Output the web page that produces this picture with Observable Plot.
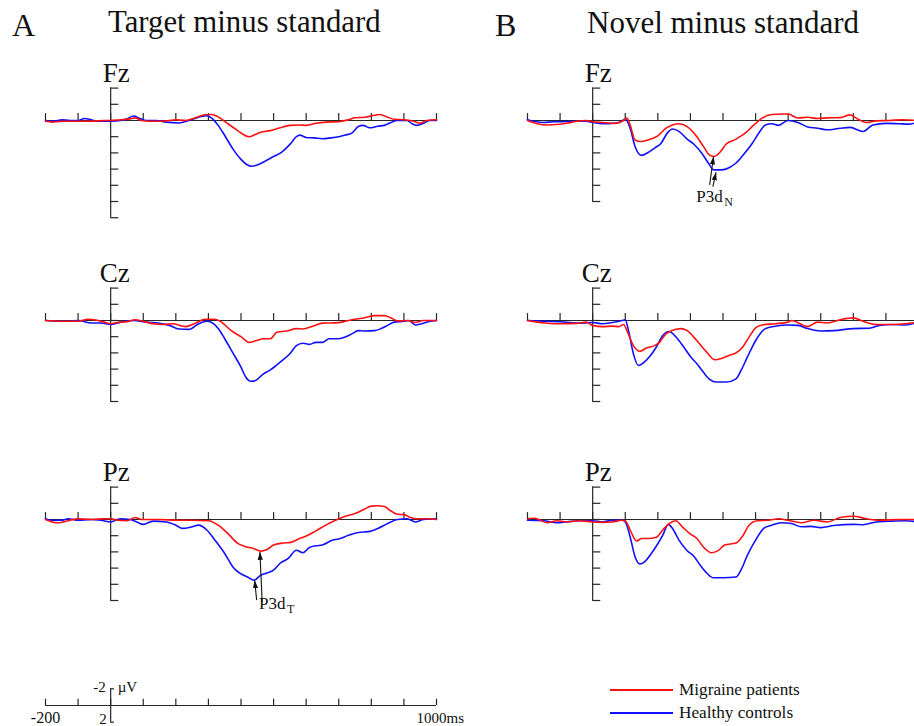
<!DOCTYPE html>
<html><head><meta charset="utf-8">
<script src="https://cdn.jsdelivr.net/npm/d3@7"></script>
<script src="https://cdn.jsdelivr.net/npm/@observablehq/plot@0.6"></script>
<style>
html,body{margin:0;padding:0;background:#fff;}
#root{position:relative;width:914px;height:726px;overflow:hidden;background:#fff;font-family:'Liberation Serif','Times New Roman',serif;color:#111;}
.abs{position:absolute;white-space:nowrap;font-family:'Liberation Serif','Times New Roman',serif;}
.abs svg{max-width:none !important;display:block;}
</style></head><body><div id="root"></div>
<script>
// ---------- data (time in ms, amplitude in µV; positive plotted downward) ----------
const xTicks = [-200,-100,0,100,200,300,400,500,600,700,800,900,1000];
const seriesNames = ["Migraine patients", "Healthy controls"];
const electrodes = ["Fz", "Cz", "Pz"];
const conditions = ["Target minus standard", "Novel minus standard"];
const panelLetters = ["A", "B"];
const yAxisMax = [12, 10, 10, 10, 10, 10]; // FzA, CzA, PzA, FzB, CzB, PzB

const fzA_healthy = [[-200,0],[-175,0.1],[-150,-0.1],[-125,0],[-100,0],[-80,-0.25],[-60,-0.1],[-40,0.1],[-20,0.1],[0,0.1],[30,0],[50,-0.2],[70,-0.55],[90,-0.25],[110,0],[140,0],[170,0.2],[210,0.3],[240,0],[270,-0.4],[295,-0.6],[310,-0.3],[330,0.6],[350,1.85],[375,3.5],[400,4.8],[420,5.5],[432,5.65],[450,5.5],[475,5.0],[500,4.45],[525,3.9],[550,2.95],[570,2.0],[580,1.8],[600,2.1],[625,2.15],[650,2.25],[675,2.15],[700,2.0],[720,1.8],[740,1.55],[760,0.75],[775,0.6],[795,0.9],[820,0.7],[840,0.6],[860,0.25],[880,0],[910,0],[925,0.4],[940,0.6],[960,0.35],[980,0],[1000,0]];
const fzA_migraine = [[-200,0.1],[-180,0.2],[-150,0.1],[-100,0.1],[-60,0.1],[-20,0],[0,0],[30,-0.1],[60,-0.2],[75,-0.33],[95,0],[120,0.1],[160,0.1],[200,-0.1],[230,0],[260,-0.33],[290,-0.7],[310,-0.75],[335,-0.33],[360,0.4],[390,1.25],[410,1.8],[425,2.0],[440,1.8],[460,1.45],[490,1.25],[520,0.9],[550,0.6],[580,0.55],[600,0.6],[630,0.35],[660,0.2],[700,0.15],[730,-0.1],[750,-0.33],[780,-0.4],[810,-0.65],[825,-0.75],[845,-0.5],[870,-0.15],[900,-0.1],[930,0.1],[950,0.33],[970,0],[1000,-0.1]];
const czA_healthy = [[-200,0],[-170,0.1],[-130,0.1],[-100,0],[-60,0.3],[-30,0.3],[0,0.5],[30,0.2],[70,0],[110,0.2],[150,0.33],[180,0.6],[210,1.05],[240,1.1],[270,0.4],[295,0.1],[310,0.25],[330,1.0],[350,2.25],[375,4.0],[400,5.75],[415,7.0],[430,7.5],[445,7.4],[465,6.7],[490,6.1],[520,5.15],[550,4.1],[570,3.1],[590,2.8],[610,2.95],[630,2.7],[650,2.7],[670,2.25],[700,2.25],[720,2.05],[740,1.65],[760,1.25],[780,1.3],[810,1.25],[830,1.0],[850,0.6],[870,0.2],[900,0.1],[915,0],[935,0.55],[955,0.4],[980,0.1],[1000,0]];
const czA_migraine = [[-200,0],[-150,0.1],[-100,0.1],[-70,-0.15],[-50,-0.1],[-20,0.2],[0,0.4],[20,0.25],[50,0.15],[75,-0.1],[100,0.1],[130,0.4],[160,0.5],[190,0.4],[230,0.75],[260,0.33],[290,-0.15],[320,-0.15],[340,0.2],[370,1.25],[400,2.0],[425,2.7],[445,2.5],[470,2.25],[490,2.25],[510,1.45],[540,1.3],[570,1.0],[590,1.05],[620,0.7],[650,0.33],[680,0.3],[710,0.2],[740,-0.1],[780,-0.33],[810,-0.6],[840,-0.6],[860,-0.33],[880,0.05],[910,0],[935,0.25],[960,0],[1000,0]];
const pzA_healthy = [[-200,-0.1],[-180,0.1],[-150,0.1],[-130,-0.1],[-100,0.1],[-60,0],[-30,0.1],[0,0.3],[30,-0.1],[60,0],[80,0.3],[100,0.6],[130,0.2],[170,0.3],[200,0.7],[220,1.1],[250,0.9],[270,0.7],[295,1.3],[320,2.55],[350,4.2],[375,5.85],[395,6.6],[420,7.1],[440,7.5],[460,6.9],[480,6.6],[500,6.25],[520,5.4],[545,4.8],[570,3.8],[590,4.1],[610,3.45],[630,3.25],[650,3.15],[680,2.55],[700,2.4],[730,1.95],[760,1.6],[790,1.5],[820,1.1],[850,0.5],[880,0],[910,-0.1],[935,0.3],[960,0],[1000,-0.1]];
const pzA_migraine = [[-200,0],[-180,0.3],[-160,0.4],[-130,0.15],[-100,-0.1],[-60,0],[-20,-0.1],[0,-0.1],[20,0.1],[50,0.15],[75,-0.25],[95,0],[150,0],[200,0.1],[250,0.1],[300,0.15],[330,0.7],[360,1.75],[390,2.95],[410,3.3],[440,3.6],[460,3.9],[480,3.7],[500,3.15],[530,2.9],[550,2.85],[580,2.35],[600,2.05],[630,1.4],[660,0.7],[690,0.1],[720,-0.4],[750,-0.75],[780,-1.3],[800,-1.65],[820,-1.7],[840,-1.6],[860,-1.05],[880,-0.65],[900,-0.6],[920,-0.25],[940,-0.1],[970,-0.1],[1000,0]];
const fzB_healthy = [[-200,-0.1],[-180,0.1],[-150,0.25],[-120,0.15],[-100,0.15],[-60,0.1],[-20,0.1],[0,0.25],[30,0.4],[60,0.35],[80,0.25],[100,-0.15],[115,0.95],[130,3.2],[150,4.3],[170,3.95],[190,3.4],[210,2.8],[230,1.5],[245,1.05],[265,1.35],[290,2.3],[310,2.9],[335,4.05],[355,5.25],[372,6.1],[395,6.1],[420,5.8],[440,5.25],[465,4.1],[490,2.8],[510,1.55],[530,0.55],[550,0.4],[570,0.6],[600,0],[630,0.25],[660,0.8],[690,0.95],[720,1.15],[760,0.95],[790,0.85],[830,1.35],[860,0.55],[900,0.35],[940,0.4],[970,0.45],[1000,0.15]];
const fzB_migraine = [[-200,0],[-170,0.4],[-140,0.55],[-110,0.5],[-80,0.35],[-50,0.1],[-20,0],[0,0.15],[30,0.25],[70,0.35],[95,0],[105,-0.3],[115,0.55],[130,2.4],[148,2.6],[170,2.4],[200,1.9],[225,0.95],[245,0.55],[265,0.4],[290,0.75],[315,1.75],[340,3.2],[358,4.25],[372,4.45],[390,3.95],[410,2.9],[440,2.3],[470,1.5],[495,0.55],[520,-0.3],[550,-0.75],[580,-0.8],[600,-0.8],[630,-0.3],[660,-0.4],[690,-0.25],[720,-0.33],[760,-0.35],[790,-0.7],[815,-0.15],[840,0.25],[870,0.05],[910,0],[950,-0.1],[1000,0]];
const czB_healthy = [[-200,0],[-150,0.1],[-100,0.15],[-50,0.33],[0,0.25],[30,0.4],[60,0.25],[90,0],[100,-0.1],[110,1.25],[125,4.1],[140,5.55],[155,5.25],[175,4.45],[195,3.3],[215,1.85],[235,1.35],[255,2.0],[280,3.3],[300,4.45],[320,5.35],[340,6.4],[360,7.3],[380,7.6],[410,7.6],[440,7.2],[455,6.2],[475,4.5],[500,2.5],[530,1.0],[560,0.7],[600,0.55],[630,0.6],[660,1.0],[700,1.3],[740,1.25],[800,1.0],[850,0.95],[880,0.6],[920,0.5],[960,0.55],[1000,0.2]];
const czB_migraine = [[-200,0],[-170,0.2],[-140,0.33],[-100,0.4],[-50,0.35],[-20,0.2],[0,0.6],[30,0.75],[60,0.7],[80,0.75],[95,0.5],[105,1.25],[125,3.1],[145,3.8],[165,3.4],[190,3.1],[205,2.7],[225,1.65],[240,1.3],[270,1.0],[290,1.25],[320,2.5],[350,3.9],[375,4.85],[395,4.7],[420,4.3],[440,4.0],[460,3.3],[480,2.05],[500,0.9],[520,0.55],[560,0.4],[600,0.2],[610,0],[660,0.75],[690,0.2],[720,0.3],[760,-0.1],[800,-0.33],[830,0.1],[870,0.5],[920,0.5],[960,0.4],[1000,0.2]];
const pzB_healthy = [[-200,0.1],[-150,0.15],[-110,0.4],[-80,0.3],[-40,0.15],[0,0.15],[30,0.3],[60,0.1],[90,0.1],[100,0.3],[115,2.15],[130,4.6],[145,5.5],[160,5.2],[180,4.2],[195,3.3],[215,1.95],[232,0.6],[245,1.1],[265,2.55],[290,3.85],[310,4.5],[330,5.65],[350,6.6],[370,7.2],[400,7.2],[440,7.1],[455,6.25],[475,4.4],[500,2.55],[525,1.1],[550,0.7],[580,0.4],[610,0.5],[640,0.9],[670,0.85],[700,1.0],[740,0.75],[800,0.6],[830,0.65],[870,0.3],[920,0.2],[960,0.15],[1000,0.3]];
const pzB_migraine = [[-200,-0.1],[-180,-0.15],[-160,0.1],[-140,0.4],[-110,0.15],[-80,0.3],[-40,0.15],[0,0.3],[30,0.35],[60,0.3],[90,0.1],[100,0.15],[115,1.3],[135,2.65],[150,2.35],[170,2.35],[195,2.2],[215,1.3],[235,0.5],[255,0.15],[275,0.9],[300,1.8],[320,2.35],[340,3.4],[365,4.1],[385,3.85],[405,3.15],[440,2.9],[460,2.05],[480,0.7],[505,0.15],[540,0.1],[570,-0.1],[600,0.1],[640,0.4],[680,0.1],[720,0.3],[760,-0.25],[800,-0.4],[840,-0.1],[880,0.1],[940,0],[1000,0]];

// peak annotations: [x1, y1, x2, y2] (tail -> tip), and label [text, subscript, x, y]
const pzA_arrows = [[465,10.2,458,4.0],[448,9.96,442,7.5]];
const pzA_note = ["P3d","T",455,11.0];
const fzB_arrows = [[359,7.94,371,4.44],[369,8.15,378.5,6.4]];
const fzB_note = ["P3d","N",318,10.0];

// scale bar
const scaleYTicks = [-2, 2];
const scaleXLabels = ["-200", "1000ms"];
const scaleYLabels = ["-2", "2"];
const scaleUnit = "µV";

// ---------- layout / style ----------
const SERIF = "'Liberation Serif','Times New Roman',serif";
const RED = "#ff1010", BLUE = "#1010ff", AXIS = "#262626";
const root = document.getElementById("root");
const PX_PER_UV = 8.1, PH = 200, PW = 460;
const yHalf = (PH / 2) / PX_PER_UV;
const colLeft = [0, 460];
const colRange = [[45, 436], [67, 458]];
const rowTop = [20, 220, 419];

function place(node, left, top, width) {
  const d = document.createElement("div");
  d.className = "abs";
  d.style.left = left + "px"; d.style.top = top + "px";
  if (width) d.style.width = width + "px";
  d.appendChild(node);
  root.appendChild(d);
  return d;
}
function textDiv(str, left, baseline, size) {
  const s = document.createElement("span");
  s.textContent = str;
  s.style.fontSize = size + "px";
  s.style.lineHeight = size + "px";
  s.style.fontFamily = SERIF;
  s.style.display = "block";
  place(s, left, baseline - 0.8375 * size);
}

function filledArrow(color) {
  const m = d3.create("svg:marker")
    .attr("viewBox", "-8 -3 8 6")
    .attr("markerWidth", 8).attr("markerHeight", 6)
    .attr("markerUnits", "userSpaceOnUse")
    .attr("refX", 0).attr("refY", 0)
    .attr("orient", "auto")
    .attr("fill", color).attr("stroke", "none");
  m.append("path").attr("d", "M0,0L-8,-2.6L-8,2.6Z");
  return m.node();
}

function makePanel(p, marker) {
  const yTicks = d3.range(-4, p.yMax + 1, 2);
  const marks = [
    Plot.ruleY([0], {x1: -200, x2: 1000, stroke: AXIS, strokeWidth: 1.2}),
    Plot.ruleX(xTicks, {y1: 0, y2: -0.85, stroke: AXIS, strokeWidth: 1.2}),
    Plot.ruleX([0], {y1: -4, y2: p.yMax, stroke: AXIS, strokeWidth: 1.2}),
    Plot.ruleY(yTicks, {x1: 0, x2: 25, stroke: AXIS, strokeWidth: 1.2}),
    Plot.line(p.healthy, {x: d => d[0], y: d => d[1], stroke: BLUE, strokeWidth: 1.6, curve: "monotone-x"}),
    Plot.line(p.migraine, {x: d => d[0], y: d => d[1], stroke: RED, strokeWidth: 1.6, curve: "monotone-x"}),
    Plot.text([p.label], {x: 0, y: -4, text: d => d, textAnchor: "end", lineAnchor: "bottom", dx: 19, dy: -6, fontSize: 27, fontFamily: SERIF, fill: "#111"})
  ];
  if (p.arrows) {
    marks.push(Plot.link(p.arrows, {x1: d => d[0], y1: d => d[1], x2: d => d[2], y2: d => d[3], stroke: "#111", strokeWidth: 1.1, markerEnd: marker}));
    marks.push(Plot.text([p.note], {x: d => d[2], y: d => d[3], text: d => d[0], textAnchor: "start", lineAnchor: "bottom", fontSize: 17, fontFamily: SERIF, fill: "#111"}));
    marks.push(Plot.text([p.note], {x: d => d[2], y: d => d[3], text: d => d[1], textAnchor: "start", lineAnchor: "bottom", dx: 28, dy: 4.5, fontSize: 12, fontFamily: SERIF, fill: "#111"}));
  }
  return Plot.plot({
    width: PW, height: PH, margin: 0,
    x: {domain: [-200, 1000], range: colRange[p.col], axis: null},
    y: {domain: [-yHalf, yHalf], range: [0, PH], axis: null},
    style: {fontFamily: SERIF, background: "transparent", overflow: "visible", maxWidth: "none"},
    marks
  });
}

const panels = [
  {col: 0, row: 0, label: electrodes[0], healthy: fzA_healthy, migraine: fzA_migraine, yMax: yAxisMax[0]},
  {col: 0, row: 1, label: electrodes[1], healthy: czA_healthy, migraine: czA_migraine, yMax: yAxisMax[1]},
  {col: 0, row: 2, label: electrodes[2], healthy: pzA_healthy, migraine: pzA_migraine, yMax: yAxisMax[2], arrows: pzA_arrows, note: pzA_note},
  {col: 1, row: 0, label: electrodes[0], healthy: fzB_healthy, migraine: fzB_migraine, yMax: yAxisMax[3], arrows: fzB_arrows, note: fzB_note},
  {col: 1, row: 1, label: electrodes[1], healthy: czB_healthy, migraine: czB_migraine, yMax: yAxisMax[4]},
  {col: 1, row: 2, label: electrodes[2], healthy: pzB_healthy, migraine: pzB_migraine, yMax: yAxisMax[5]}
];

for (const p of panels) {
  let svg;
  try { svg = makePanel(p, filledArrow); }
  catch (e) { svg = makePanel(p, "arrow"); }
  place(svg, colLeft[p.col], rowTop[p.row], PW);
}

// titles
textDiv(panelLetters[0], 12, 36, 32);
textDiv(conditions[0], 108, 33, 30.8);
textDiv(panelLetters[1], 495, 36, 32);
textDiv(conditions[1], 587, 33, 31);

// scale bar
const scaleSvg = Plot.plot({
  width: PW, height: 86, margin: 0,
  x: {domain: [-200, 1000], range: [45, 436], axis: null},
  y: {domain: [-2, 2], range: [48.3, 81.7], axis: null},
  style: {fontFamily: SERIF, background: "transparent", overflow: "visible", maxWidth: "none"},
  marks: [
    Plot.ruleY([0], {x1: -200, x2: 1000, stroke: AXIS, strokeWidth: 1.2}),
    Plot.ruleX(xTicks, {y1: 0, y2: -0.75, stroke: AXIS, strokeWidth: 1.2}),
    Plot.ruleX([0], {y1: -2, y2: 2, stroke: AXIS, strokeWidth: 1.2}),
    Plot.ruleY(scaleYTicks, {x1: 0, x2: 12, stroke: AXIS, strokeWidth: 1.2}),
    Plot.text([scaleXLabels[0]], {x: -200, y: 0, text: d => d, textAnchor: "middle", lineAnchor: "bottom", dy: 17.5, fontSize: 16, fontFamily: SERIF, fill: "#111"}),
    Plot.text([scaleXLabels[1]], {x: 1000, y: 0, text: d => d, textAnchor: "start", lineAnchor: "bottom", dx: -20, dy: 17.5, fontSize: 15, fontFamily: SERIF, fill: "#111"}),
    Plot.text([scaleYLabels[0]], {x: 0, y: -2, text: d => d, textAnchor: "end", lineAnchor: "bottom", dx: -5, dy: 3, fontSize: 15, fontFamily: SERIF, fill: "#111"}),
    Plot.text([scaleYLabels[1]], {x: 0, y: 2, text: d => d, textAnchor: "end", lineAnchor: "bottom", dx: -4, dy: 1.3, fontSize: 15, fontFamily: SERIF, fill: "#111"}),
    Plot.text([scaleUnit], {x: 0, y: -2, text: d => d, textAnchor: "start", lineAnchor: "bottom", dx: 7, dy: 3, fontSize: 15, fontFamily: SERIF, fill: "#111"})
  ]
});
place(scaleSvg, 0, 640, PW);

// legend
const legendColors = [RED, BLUE];
const legendY = [690, 713.3];
seriesNames.forEach((name, i) => {
  const line = document.createElement("div");
  line.style.width = "63px"; line.style.height = "2px"; line.style.background = legendColors[i];
  place(line, 610, legendY[i] - 1);
  textDiv(name, 679, legendY[i] + 5, 17.2);
});
</script></body></html>
